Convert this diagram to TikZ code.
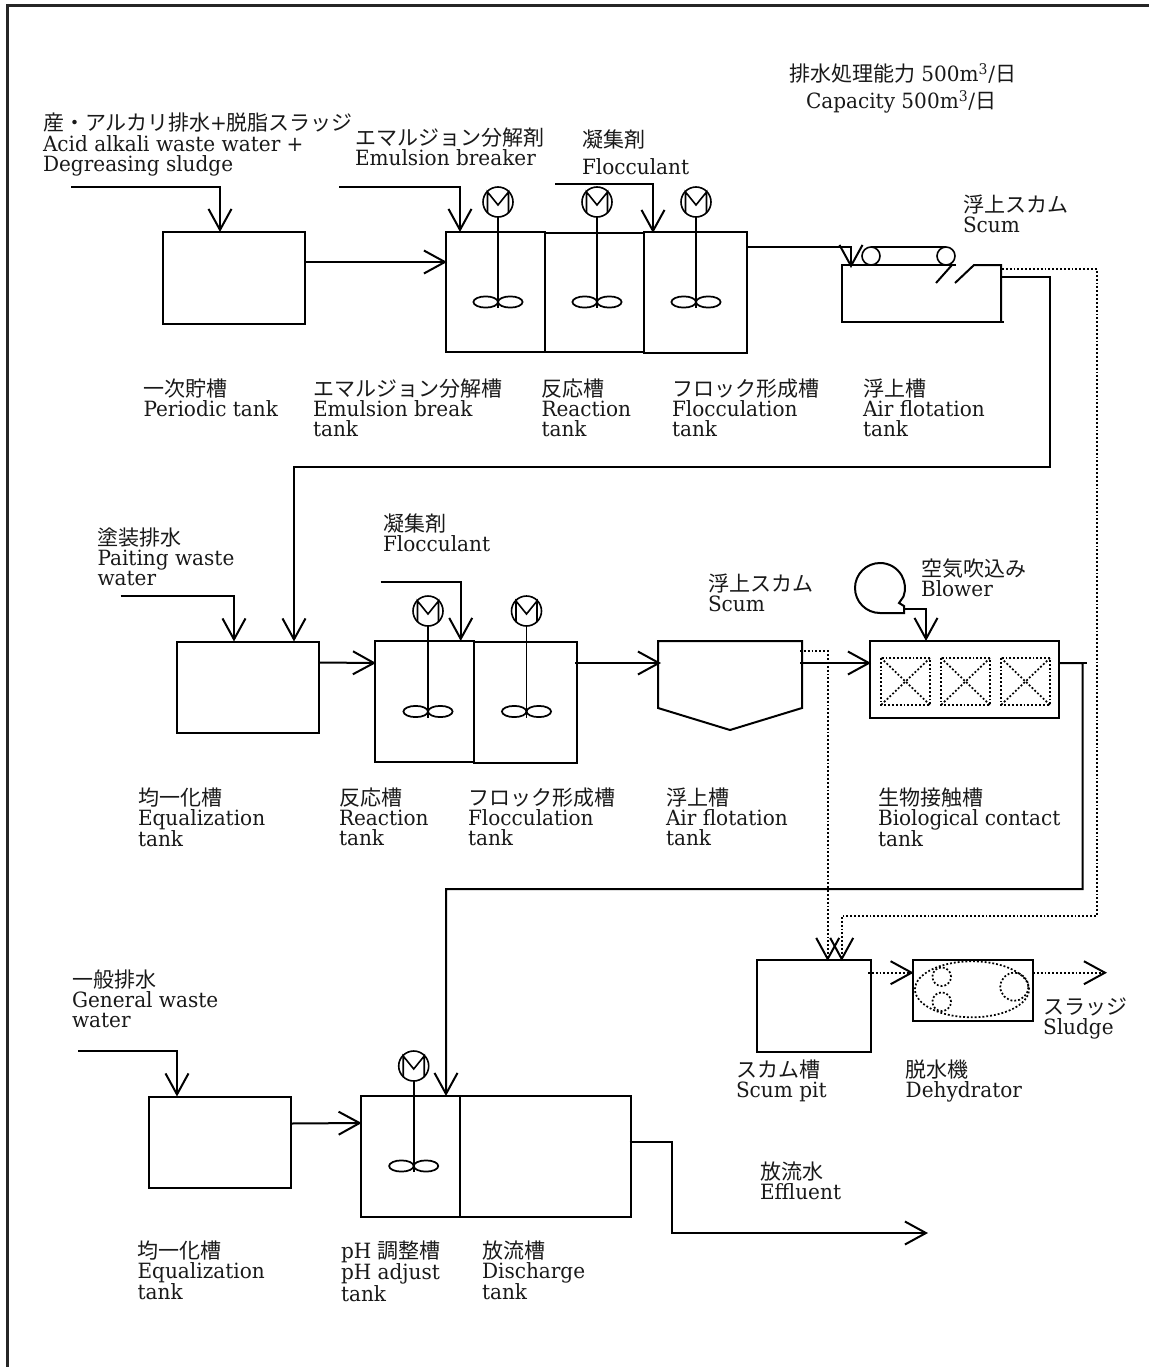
\documentclass[tikz,border=0pt]{standalone}
\usepackage{fontspec}
\setmainfont[FakeStretch=0.955]{DejaVu Serif}
\newfontfamily\cjk{Noto Sans CJK JP}
\usetikzlibrary{arrows.meta,calc,fit}
\newcommand{\J}[1]{{\cjk #1}}
\tikzset{
  flow/.style={line width=1.5pt,-{Straight Barb[length=15.75pt,width=17.25pt,line width=1.5pt]}},
  pipe/.style={line width=1.5pt},
  dotflow/.style={line width=1.3pt,dash pattern=on 1.4pt off 1.5pt},
  dotarrow/.style={dotflow,-{Straight Barb[length=15.75pt,width=17.25pt,line width=1.5pt]}},
  tank/.style={draw,line width=1.5pt,rectangle,inner sep=0pt,outer sep=0pt},
  motor/.style={draw,line width=1.2pt,circle,minimum size=22.5pt,inner sep=0pt,outer sep=0pt},
  lbl/.style={anchor=north west,align=left,inner sep=0pt,outer sep=0pt,yshift=7.9pt,text=black!90,
    font=\fontsize{15.75pt}{15pt}\selectfont},
}
\newcommand{\tank}[5]{\node[tank,fit={(#2,#3)(#4,#5)}] (#1) {};}
\newcommand{\lab}[4]{\node[lbl] (#1) at (#2,#3) {\rule{0pt}{13.9pt}#4};}
\newcommand{\mixer}[4]{%
  \node[motor] (#1) at (#2,#3) {};
  \begin{scope}[shift={(#2,#3)},line width=1.2pt]
    \draw (-10.5,11) -- (-10.5,-10) -- (0,3) -- (10.5,-10) -- (10.5,11);
  \end{scope}
  \coordinate (#1-shaftend) at (#2,#4+6);
  \draw[line width=1.3pt] (#1.south) -- (#1-shaftend);
  \draw[line width=1.3pt] (#2-12.3,#4) ellipse [x radius=9.2pt,y radius=4.2pt];
  \draw[line width=1.3pt] (#2+12.3,#4) ellipse [x radius=9.2pt,y radius=4.2pt];
}
\newcommand{\media}[1]{%
  \draw[dotflow] (#1,658) rectangle (#1+49,705);
  \draw[dotflow] (#1,658) -- (#1+49,705);
  \draw[dotflow] (#1+49,658) -- (#1,705);
}
\begin{document}
\begin{tikzpicture}[x=0.75pt,y=-0.75pt]
\useasboundingbox (0,0) rectangle (1149,1367);
% frame
\coordinate (fa) at (7.5,1367); \coordinate (fb) at (7.5,5.5); \coordinate (fc) at (1149,5.5);
\draw[line width=1.6pt,black!85] (fa) -- (fb) -- (fc);

% row 1 tanks
\tank{A}{163}{232}{305}{324}
\tank{B}{446}{232}{545}{352}
\tank{C}{545}{233}{644}{352}
\tank{D}{644}{232}{747}{353}
\mixer{mB}{498}{202}{302}
\mixer{mC}{597}{202}{302}
\mixer{mD}{696}{202}{302}
% flotation tank with skimmer
\coordinate (Fnw) at (842,265);
\coordinate (Fne) at (1001,265);
\draw[line width=1.5pt] (956,265) -- (Fnw) -- (842,322) -- (1004,322);
\draw[line width=1.5pt] (936,283) -- (952,265);
\draw[line width=1.5pt] (955,283) -- (974,265) -- (Fne) -- (1001,322);
\node[motor,minimum size=13.5pt] (r1) at (871,256) {};
\node[motor,minimum size=13.5pt] (r2) at (946,256) {};
\draw[line width=1.5pt] (r1.north) -- (r2.north);

% row 1 connectors
\coordinate (i1) at (71,187);
\draw[flow] (i1) -| ($(A.north west)+(57,0)$);
\coordinate (i2) at (339,187);
\draw[flow] (i2) -| ($(B.north west)+(14,0)$);
\coordinate (i3) at (555,184);
\draw[flow] (i3) -| ($(D.north west)+(9,1)$);
\draw[flow] ($(A.north east)+(0,30)$) -- ($(B.north west)+(1,30)$);
\draw[flow] ($(D.north east)+(0,15)$) -| ($(Fnw)+(9,3)$);
% row 2 tanks
\tank{I}{177}{641.5}{319}{733}
\tank{J}{375}{641}{474}{762}
\tank{K}{474}{642}{577}{763}
\mixer{mJ}{428}{611}{711.5}
\mixer{mK}{526.5}{611}{711.5}
\coordinate (Gnw) at (658,641); \coordinate (Gne) at (802,641);
\coordinate (Gtip) at (730,730);
\draw[line width=1.5pt] (Gnw) -- (Gne) -- (802,708) -- (Gtip) -- (658,708) -- cycle;
\tank{H}{870}{641}{1059}{718}
\media{881}\media{941}\media{1001}
% blower
\coordinate (bl) at (880,613);
\coordinate (blo) at (904,609);
\draw[line width=1.5pt] (blo) -- (904,613) -- (bl) arc[start angle=-90,end angle=-380,radius=18.75pt] -- (899,603) -- (904,606) -- (blo);
% transfer from row 1 to row 2
\coordinate (o1) at (1001,277);
\draw[flow] (o1) -- (1050,277) -- (1050,467) -- (294,467) -- ($(I.north west)+(117,0)$);
\coordinate (i4) at (120.7,596);
\draw[flow] (i4) -| ($(I.north west)+(57,0)$);
\coordinate (i5) at (380.7,581.7);
\draw[flow] (i5) -| ($(J.north west)+(85.7,0)$);
\draw[flow] ($(I.north east)+(0,21)$) -- ($(J.north west)+(1,22)$);
\draw[flow] ($(K.north east)+(-2,21)$) -- ($(Gnw)+(3,22)$);
\draw[flow] ($(Gne)+(-2,22)$) -- ($(H.north west)+(1,22)$);
\draw[flow] (blo) -| ($(H.north west)+(56,0)$);

% row 3 tanks
\tank{L}{149}{1096.5}{291}{1188}
\tank{M}{360.7}{1096}{460}{1216.5}
\tank{N}{460}{1096}{630.5}{1216.5}
\mixer{mM}{413.7}{1066}{1166}
% transfer row 2 to row 3
\coordinate (o2) at (1058,663);
\draw[flow] (o2) -- (1082.5,663) -- (1082.5,889) -- (446,889) -- ($(M.north west)+(85.3,0)$);
\draw[pipe] (1082,663) -- (1087,663);
\coordinate (i6) at (78,1051);
\draw[flow] (i6) -| ($(L.north west)+(28,0)$);
\draw[flow] ($(L.north east)+(0,27)$) -- ($(M.north west)+(1,27)$);
\coordinate (eff) at (928,1233);
\draw[flow] ($(N.north east)+(-1,46)$) -- (672,1142) -- (672,1233) -- (eff);

% scum pit and dehydrator
\tank{P}{757}{960}{871}{1052}
\tank{Q}{912.7}{960}{1033}{1021}
\draw[dotflow] (972,989.3) ellipse [x radius=42.75pt,y radius=21pt];
\draw[dotflow] (941.7,976.7) circle [radius=7pt];
\draw[dotflow] (941.7,1001.7) circle [radius=7pt];
\draw[dotflow] (1014.3,986.7) circle [radius=10.5pt];
\coordinate (d1) at (800,651);
\draw[dotarrow] (d1) -- (827.7,651) -- ($(P.north west)+(70.7,1)$);
\coordinate (d2) at (1002,269);
\draw[dotarrow] (d2) -- (1096.7,269) -- (1096.7,915.7) -- (841.7,915.7) -- ($(P.north west)+(84.7,1)$);
\draw[dotarrow] ($(P.north east)+(-3,12.7)$) -- ($(Q.north west)+(1,12.7)$);
\coordinate (sl) at (1107,972.7);
\draw[dotarrow] ($(Q.north east)+(0,12.7)$) -- (sl);

% labels
\lab{t1}{789}{73}{\J{排水処理能力} 500m\textsuperscript{3}/\J{日}}
\lab{t2}{806}{100}{Capacity 500m\textsuperscript{3}/\J{日}}
\lab{t3}{43}{122}{\J{産・アルカリ排水}+\J{脱脂スラッジ}}
\lab{t4}{43}{143}{Acid alkali waste water +\\Degreasing sludge}
\lab{t5}{355}{137}{\J{エマルジョン分解剤}\\Emulsion breaker}
\lab{t6}{582}{139}{\J{凝集剤}}
\lab{t7}{582}{166}{Flocculant}
\lab{t8}{963}{204}{\J{浮上スカム}\\Scum}
\lab{t9}{143.5}{388}{\J{一次貯槽}\\Periodic tank}
\lab{t10}{313}{388}{\J{エマルジョン分解槽}\\Emulsion break\\tank}
\lab{t11}{541.5}{388}{\J{反応槽}\\Reaction\\tank}
\lab{t12}{672}{388}{\J{フロック形成槽}\\Flocculation\\tank}
\lab{t13}{863}{388}{\J{浮上槽}\\Air flotation\\tank}
\lab{t14}{97.5}{537}{\J{塗装排水}\\Paiting waste\\water}
\lab{t15}{383}{523}{\J{凝集剤}\\Flocculant}
\lab{t16}{708}{583}{\J{浮上スカム}\\Scum}
\lab{t17}{921}{568}{\J{空気吹込み}\\Blower}
\lab{t18}{138}{797}{\J{均一化槽}\\Equalization\\tank}
\lab{t19}{339}{797}{\J{反応槽}\\Reaction\\tank}
\lab{t20}{468}{797}{\J{フロック形成槽}\\Flocculation\\tank}
\lab{t21}{666}{797}{\J{浮上槽}\\Air flotation\\tank}
\lab{t22}{878}{797}{\J{生物接触槽}\\Biological contact\\tank}
\lab{t23}{72}{979}{\J{一般排水}\\General waste\\water}
\lab{t24}{1043}{1006}{\J{スラッジ}\\Sludge}
\lab{t25}{736}{1069}{\J{スカム槽}\\Scum pit}
\lab{t26}{905.7}{1069}{\J{脱水機}\\Dehydrator}
\lab{t27}{760}{1171}{\J{放流水}\\Effluent}
\lab{t28}{137.6}{1250}{\J{均一化槽}\\Equalization\\tank}
\lab{t29}{341}{1250}{pH \J{調整槽}\\pH adjust\\tank}
\lab{t30}{482}{1250}{\J{放流槽}\\Discharge\\tank}
\end{tikzpicture}
\end{document}
